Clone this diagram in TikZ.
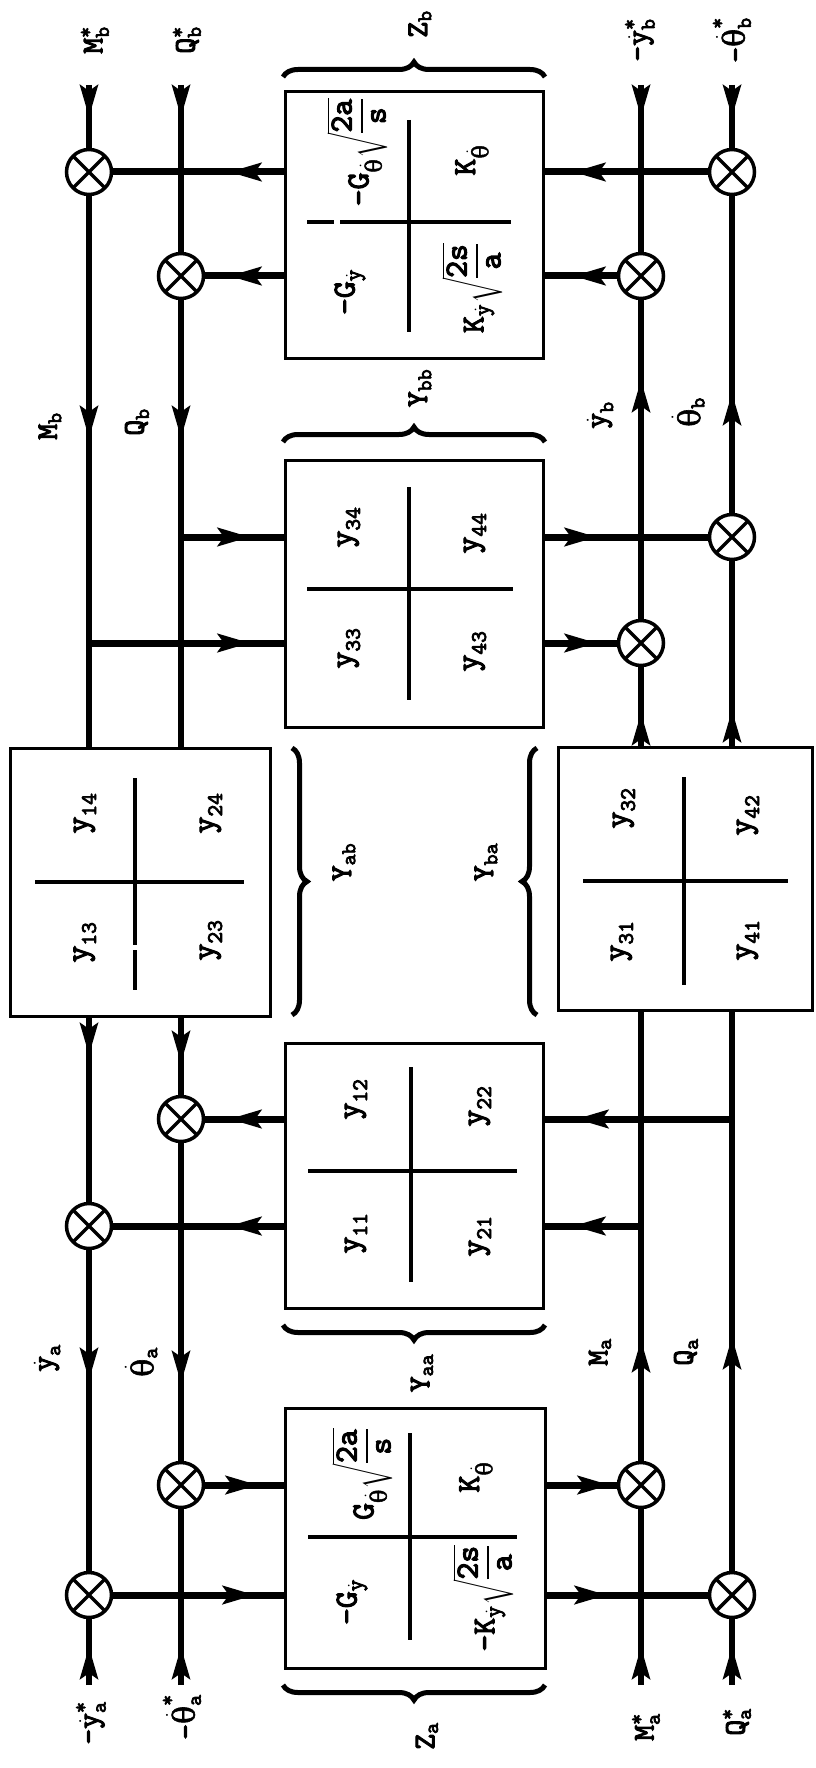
\documentclass[tikz,border=0pt]{standalone}
\usepackage{amsmath}
\usepackage{fontspec}
\setmonofont{lmmono10-regular}[Extension=.otf,FakeBold=3.5]
\newfontfamily\thfont{DejaVu Serif}[FakeBold=2]
\usetikzlibrary{arrows.meta,decorations.markings,decorations.pathreplacing}
\newcommand\tx[1]{\text{#1}}
\newcommand\thet{\text{\thfont θ}}
\newcommand\rfrac[2]{\genfrac{}{}{2.5pt}{0}{\tx{#1}}{\tx{#2}}}
\begin{document}
\begin{tikzpicture}[x=1pt,y=-1pt,
  vline/.style={line width=5.5pt},
  hline/.style={line width=7pt},
  ahead/.style={postaction={decorate,decoration={markings,mark=at position #1 with {\arrow{Stealth[length=32pt,width=18pt,inset=6pt]}}}}},
  sumc/.style={circle,draw,fill=white,line width=3.5pt,minimum size=45pt,inner sep=0pt,outer sep=0pt,
    path picture={\draw[line width=3.5pt] (path picture bounding box.north east)--(path picture bounding box.south west)
      (path picture bounding box.north west)--(path picture bounding box.south east);}},
  mbox/.style={draw,line width=3pt,inner sep=0pt,outer sep=0pt},
  div/.style={line width=3.5pt},
  brc/.style={decorate,decoration={brace,amplitude=15pt},line width=5pt},
  ent/.style={rotate=90,font=\ttfamily\fontsize{32}{38}\selectfont,inner sep=0pt},
  lab/.style={rotate=90,font=\ttfamily\fontsize{30}{36}\selectfont,inner sep=0pt},
]
\useasboundingbox (0,0) rectangle (815,1768);
\fill[white] (0,0) rectangle (815,1768);
% boxes
\node[mbox,minimum width=258pt,minimum height=266pt] (Zb) at (414,225) {};
\node[mbox,minimum width=258pt,minimum height=267pt] (Ybb) at (414,593.5) {};
\node[mbox,minimum width=260pt,minimum height=268pt] (Yab) at (140,882) {};
\node[mbox,minimum width=254pt,minimum height=263pt] (Yba) at (685,878.5) {};
\node[mbox,minimum width=258pt,minimum height=265pt] (Yaa) at (414,1175.5) {};
\node[mbox,minimum width=260pt,minimum height=260pt] (Za) at (415,1538) {};
% summing junctions
\node[sumc] (C1) at (89,172) {};
\node[sumc] (C2) at (181,276) {};
\node[sumc] (C3) at (641,276) {};
\node[sumc] (C4) at (732,172) {};
\node[sumc] (C5) at (732,537) {};
\node[sumc] (C6) at (641,643) {};
\node[sumc] (C7) at (181,1119) {};
\node[sumc] (C8) at (89,1226) {};
\node[sumc] (C9) at (181,1485) {};
\node[sumc] (C10) at (641,1485) {};
\node[sumc] (C11) at (89,1595) {};
\node[sumc] (C12) at (732,1595) {};
% free ends and branch points
\coordinate (t1) at (89,85); \coordinate (t2) at (181,85);
\coordinate (t3) at (641,85); \coordinate (t4) at (732,85);
\coordinate (b1) at (89,1685); \coordinate (b2) at (181,1685);
\coordinate (b3) at (641,1685); \coordinate (b4) at (732,1685);
\coordinate (j1) at (181,537); \coordinate (j2) at (89,643);
\coordinate (j3) at (732,1119); \coordinate (j4) at (641,1226);
% vertical lines
\draw[vline,ahead=32pt] (t1) -- (C1);
\draw[vline,ahead=243.5pt] (C1) -- (C1 |- Yab.north);
\draw[vline,ahead=39pt] (Yab.south -| C1) -- (C8);
\draw[vline,ahead=131.5pt] (C8) -- (C11);
\draw[vline,ahead=38pt] (b1) -- (C11);
\draw[vline,ahead=32pt] (t2) -- (C2);
\draw[vline,ahead=139.5pt] (C2) -- (C2 |- Yab.north);
\draw[vline,ahead=47pt] (Yab.south -| C2) -- (C7);
\draw[vline,ahead=241.5pt] (C7) -- (C9);
\draw[vline,ahead=38pt] (b2) -- (C9);
\draw[vline,ahead=38pt] (b3) -- (C10);
\draw[vline,ahead=122.5pt] (C10) -- (C10 |- Yba.south);
\draw[vline,ahead=34pt] (Yba.north -| C6) -- (C6);
\draw[vline,ahead=240.5pt] (C6) -- (C3);
\draw[vline,ahead=32pt] (t3) -- (C3);
\draw[vline,ahead=38pt] (b4) -- (C12);
\draw[vline,ahead=235.5pt] (C12) -- (C12 |- Yba.south);
\draw[vline,ahead=37pt] (Yba.north -| C5) -- (C5);
\draw[vline,ahead=121.5pt] (C5) -- (C4);
\draw[vline,ahead=32pt] (t4) -- (C4);
% horizontal lines
\draw[hline,ahead=136.5pt] (C4) -- (Zb.east |- C4);
\draw[hline,ahead=56pt] (Zb.west |- C1) -- (C1);
\draw[hline,ahead=45.5pt] (C3) -- (Zb.east |- C3);
\draw[hline,ahead=56pt] (Zb.west |- C2) -- (C2);
\draw[hline,ahead=69pt] (j1) -- (Ybb.west |- j1);
\draw[hline,ahead=54pt] (Ybb.east |- C5) -- (C5);
\draw[hline,ahead=161pt] (j2) -- (Ybb.west |- j2);
\draw[hline,ahead=54pt] (Ybb.east |- C6) -- (C6);
\draw[hline,ahead=156pt] (j3) -- (Yaa.east |- j3);
\draw[hline,ahead=56pt] (Yaa.west |- C7) -- (C7);
\draw[hline,ahead=68pt] (j4) -- (Yaa.east |- j4);
\draw[hline,ahead=56pt] (Yaa.west |- C8) -- (C8);
\draw[hline,ahead=54.5pt] (C9) -- (Za.west |- C9);
\draw[hline,ahead=65pt] (Za.east |- C10) -- (C10);
\draw[hline,ahead=143.5pt] (C11) -- (Za.west |- C11);
\draw[hline,ahead=62pt] (Za.east |- C12) -- (C12);
% dividers
\draw[div] (409,120) -- (409,332);
\draw[div] (307,222) -- (334,222) (340,222) -- (511,222);
\draw[div] (409,487) -- (409,700);
\draw[div] (307,589) -- (513,589);
\draw[div] (135,778) -- (135,945) (135,950) -- (135,990);
\draw[div] (35,882) -- (244,882);
\draw[div] (684,777) -- (684,985);
\draw[div] (583,881) -- (788,881);
\draw[div] (411,1067) -- (411,1282);
\draw[div] (308,1171) -- (517,1171);
\draw[div] (410,1433) -- (410,1640);
\draw[div] (308,1537) -- (517,1537);
% braces
\draw[brc] (283,77) -- (545,77);
\draw[brc] (283,442) -- (545,442);
\draw[brc] (292,748) -- (292,1015);
\draw[brc] (537,1015) -- (537,748);
\draw[brc] (545,1325) -- (283,1325);
\draw[brc] (545,1685) -- (283,1685);
% matrix entries
\node[ent] (zb11) at (357,152) {$\tx{-G}_{\dot{\thet}}\sqrt{\rfrac{2a}{s}}$};
\node[ent] (zb12) at (472,160) {$\tx{K}_{\dot{\thet}}$};
\node[ent] (zb21) at (350,292) {$\tx{-G}_{\dot{\tx{y}}}$};
\node[ent] (zb22) at (472,288) {$\tx{K}_{\dot{\tx{y}}}\sqrt{\rfrac{2s}{a}}$};
\node[ent] (za11) at (362,1474) {$\tx{G}_{\dot{\thet}}\sqrt{\rfrac{2a}{s}}$};
\node[ent] (za12) at (476,1477) {$\tx{K}_{\dot{\thet}}$};
\node[ent] (za21) at (352,1602) {$\tx{-G}_{\dot{\tx{y}}}$};
\node[ent] (za22) at (483,1598) {$\tx{-K}_{\dot{\tx{y}}}\sqrt{\rfrac{2s}{a}}$};
\node[ent] (e34) at (349,527) {$\tx{y}_{\tx{34}}$};
\node[ent] (e44) at (475,533) {$\tx{y}_{\tx{44}}$};
\node[ent] (e33) at (349,648) {$\tx{y}_{\tx{33}}$};
\node[ent] (e43) at (475,651) {$\tx{y}_{\tx{43}}$};
\node[ent] (e14) at (85,813) {$\tx{y}_{\tx{14}}$};
\node[ent] (e24) at (211,813) {$\tx{y}_{\tx{24}}$};
\node[ent] (e13) at (85,942) {$\tx{y}_{\tx{13}}$};
\node[ent] (e23) at (211,940) {$\tx{y}_{\tx{23}}$};
\node[ent] (e32) at (624,808) {$\tx{y}_{\tx{32}}$};
\node[ent] (e42) at (748,815) {$\tx{y}_{\tx{42}}$};
\node[ent] (e31) at (622,941) {$\tx{y}_{\tx{31}}$};
\node[ent] (e41) at (748,940) {$\tx{y}_{\tx{41}}$};
\node[ent] (e12) at (356,1099) {$\tx{y}_{\tx{12}}$};
\node[ent] (e22) at (480,1106) {$\tx{y}_{\tx{22}}$};
\node[ent] (e11) at (356,1233) {$\tx{y}_{\tx{11}}$};
\node[ent] (e21) at (480,1236) {$\tx{y}_{\tx{21}}$};
% matrix names
\node[lab] (nZb) at (420,24) {$\tx{Z}_{\tx{b}}$};
\node[lab] (nYbb) at (420,388) {$\tx{Y}_{\tx{bb}}$};
\node[lab] (nYab) at (344,862) {$\tx{Y}_{\tx{ab}}$};
\node[lab] (nYba) at (486,862) {$\tx{Y}_{\tx{ba}}$};
\node[lab] (nYaa) at (422,1373) {$\tx{Y}_{\tx{aa}}$};
\node[lab] (nZa) at (427,1736) {$\tx{Z}_{\tx{a}}$};
% signal labels
\node[lab] (sMb) at (50,426) {$\tx{M}_{\tx{b}}$};
\node[lab] (sQb) at (137,422) {$\tx{Q}_{\tx{b}}$};
\node[lab] (syb) at (600,415) {$\dot{\tx{y}}_{\tx{b}}$};
\node[lab] (stb) at (688,412) {$\dot{\thet}_{\tx{b}}$};
\node[lab] (sya) at (47,1358) {$\dot{\tx{y}}_{\tx{a}}$};
\node[lab] (sta) at (141,1362) {$\dot{\thet}_{\tx{a}}$};
\node[lab] (sMa) at (600,1352) {$\tx{M}_{\tx{a}}$};
\node[lab] (sQa) at (686,1352) {$\tx{Q}_{\tx{a}}$};
\node[lab] (iMb) at (95,40) {$\tx{M}^{\tx{*}}_{\tx{b}}$};
\node[lab] (iQb) at (187,40) {$\tx{Q}^{\tx{*}}_{\tx{b}}$};
\node[lab] (iyb) at (640,40) {$\tx{-}\dot{\tx{y}}^{\tx{*}}_{\tx{b}}$};
\node[lab] (itb) at (732,40) {$\tx{-}\dot{\thet}^{\tx{*}}_{\tx{b}}$};
\node[lab] (iya) at (91,1723) {$\tx{-}\dot{\tx{y}}^{\tx{*}}_{\tx{a}}$};
\node[lab] (ita) at (182,1717) {$\tx{-}\dot{\thet}^{\tx{*}}_{\tx{a}}$};
\node[lab] (iMa) at (646,1727) {$\tx{M}^{\tx{*}}_{\tx{a}}$};
\node[lab] (iQa) at (737,1722) {$\tx{Q}^{\tx{*}}_{\tx{a}}$};
\end{tikzpicture}
\end{document}
